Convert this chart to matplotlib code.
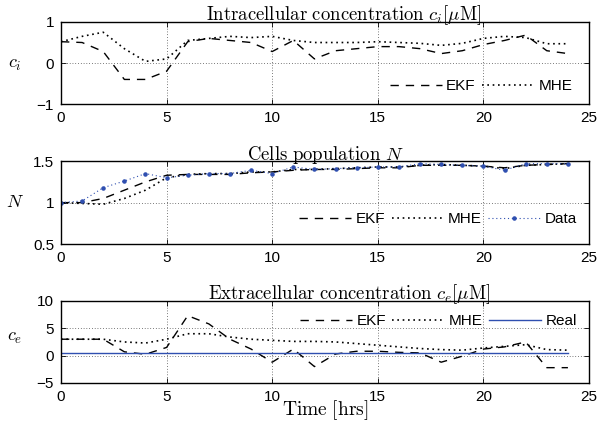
import numpy as np
import matplotlib
matplotlib.use("Agg")
import matplotlib.pyplot as plt

plt.rcParams['font.family'] = ['Liberation Sans', 'DejaVu Sans']
plt.rcParams['mathtext.fontset'] = 'cm'

# time grid (hours)
t = list(range(25))

# intracellular concentration c_i
ci_ekf = [0.52, 0.5, 0.28, -0.4, -0.4, -0.2, 0.52, 0.6, 0.55, 0.5, 0.28, 0.55,
          0.1, 0.3, 0.35, 0.4, 0.4, 0.35, 0.23, 0.3, 0.45, 0.55, 0.68, 0.3, 0.23]
ci_mhe = [0.52, 0.65, 0.75, 0.35, 0.04, 0.1, 0.55, 0.6, 0.65, 0.62, 0.65, 0.55,
          0.5, 0.5, 0.5, 0.52, 0.5, 0.48, 0.43, 0.48, 0.6, 0.65, 0.62, 0.47, 0.47]

# cells population N
n_data = [1.0, 1.02, 1.18, 1.26, 1.35, 1.30, 1.33, 1.35, 1.35, 1.39, 1.35, 1.43,
          1.40, 1.41, 1.42, 1.43, 1.43, 1.47, 1.46, 1.45, 1.44, 1.39, 1.47, 1.47, 1.47]
n_ekf = [1.0, 1.0, 1.05, 1.15, 1.25, 1.33, 1.34, 1.34, 1.34, 1.36, 1.37, 1.39,
         1.40, 1.40, 1.41, 1.42, 1.42, 1.45, 1.45, 1.45, 1.44, 1.42, 1.45, 1.46, 1.47]
n_mhe = [1.0, 0.99, 0.98, 1.05, 1.15, 1.30, 1.34, 1.35, 1.35, 1.37, 1.37, 1.40,
         1.40, 1.41, 1.42, 1.43, 1.43, 1.45, 1.46, 1.45, 1.44, 1.41, 1.45, 1.46, 1.47]

# extracellular concentration c_e
ce_ekf = [3.0, 3.0, 3.0, 0.7, 0.25, 1.5, 7.3, 5.8, 3.0, 1.2, -1.2, 1.2,
          -2.0, 0.3, 0.8, 0.8, 0.6, 0.5, -1.2, -0.1, 1.2, 1.6, 2.5, -2.2, -2.2]
ce_mhe = [3.0, 3.0, 3.0, 2.5, 2.3, 3.0, 4.0, 4.0, 3.4, 3.0, 2.8, 2.6,
          2.6, 2.5, 2.2, 1.9, 1.6, 1.3, 1.1, 1.0, 1.4, 1.7, 2.0, 1.1, 1.0]
ce_real = [0.55] * 25

BLUE = '#2f4fb0'
DASH = (0, (6, 5))
DOT = (0, (1, 2.2))
LEG = dict(frameon=False, fontsize=11, handlelength=3.4, handletextpad=0.3,
           columnspacing=0.4, borderpad=0, borderaxespad=0, loc='center right')

fig = plt.figure(figsize=(5.98, 4.23), dpi=100)
axes = [fig.add_axes([0.102, 0.754, 0.883, 0.194]),
        fig.add_axes([0.102, 0.423, 0.883, 0.196]),
        fig.add_axes([0.102, 0.0946, 0.883, 0.194])]

for ax in axes:
    ax.set_xlim(0, 25)
    ax.set_xticks([0, 5, 10, 15, 20, 25])
    ax.tick_params(direction='in', top=True, right=True, labelsize=11,
                   length=3.5, width=0.6, pad=5)
    ax.grid(True, linestyle=(0, (1, 3)), color='black', linewidth=0.5)
    for s in ax.spines.values():
        s.set_linewidth(1.0)

ax1, ax2, ax3 = axes

ax1.plot(t, ci_ekf, color='black', linestyle=DASH, lw=1.0, label='EKF')
ax1.plot(t, ci_mhe, color='black', linestyle=DOT, lw=1.2, label='MHE')
ax1.set_ylim(-1, 1)
ax1.set_yticks([-1, 0, 1])
ax1.set_title(r'$\mathrm{Intracellular\ concentration}\ c_i[\mu\mathrm{M}]$',
              fontsize=13.5, x=0.536, pad=1)
ax1.set_ylabel(r'$c_i$', rotation=0, fontsize=13)
ax1.yaxis.set_label_coords(-0.087, 0.38)
ax1.legend(bbox_to_anchor=(0.968, 0.22), ncol=2, **LEG)

ax2.plot(t, n_ekf, color='black', linestyle=DASH, lw=1.0, label='EKF')
ax2.plot(t, n_mhe, color='black', linestyle=DOT, lw=1.2, label='MHE')
ax2.plot(t, n_data, color=BLUE, linestyle=(0, (1, 2.5)), lw=0.8,
         marker='.', markersize=4.5, label='Data')
ax2.set_ylim(0.5, 1.5)
ax2.set_yticks([0.5, 1, 1.5])
ax2.set_yticklabels(['0.5', '1', '1.5'])
ax2.set_title(r'$\mathrm{Cells\ population}\ N$', fontsize=13.5, pad=1)
ax2.set_ylabel(r'$N$', rotation=0, fontsize=13)
ax2.yaxis.set_label_coords(-0.087, 0.40)
ax2.legend(bbox_to_anchor=(0.977, 0.30), ncol=3, **LEG)

ax3.plot(t, ce_ekf, color='black', linestyle=DASH, lw=1.0, label='EKF')
ax3.plot(t, ce_mhe, color='black', linestyle=DOT, lw=1.2, label='MHE')
ax3.plot(t, ce_real, color=BLUE, lw=1.0, label='Real')
ax3.set_ylim(-5, 10)
ax3.set_yticks([-5, 0, 5, 10])
ax3.set_title(r'$\mathrm{Extracellular\ concentration}\ c_e[\mu\mathrm{M}]$',
              fontsize=13.5, x=0.545, pad=1)
ax3.set_ylabel(r'$c_e$', rotation=0, fontsize=13)
ax3.yaxis.set_label_coords(-0.087, 0.45)
ax3.set_xlabel(r'$\mathrm{Time\ [hrs]}$', fontsize=14, labelpad=-4)
ax3.legend(bbox_to_anchor=(0.977, 0.756), ncol=3, **LEG)

fig.savefig('out.png', dpi=100)
